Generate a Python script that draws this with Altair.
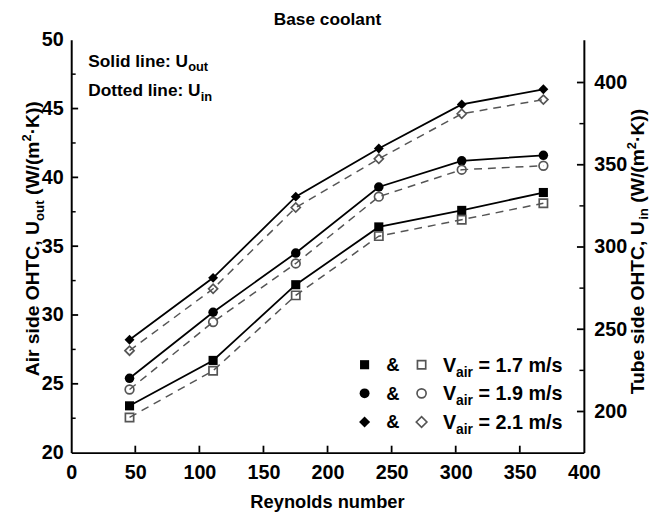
import altair as alt
import pandas as pd

# ---------------- data ----------------
reynolds = [45.5, 110.7, 175.2, 240.0, 304.7, 368.4]
vair_labels = ["1.7", "1.9", "2.1"]
u_out_17 = [23.4, 26.7, 32.2, 36.4, 37.6, 38.9]
u_out_19 = [25.4, 30.2, 34.5, 39.3, 41.2, 41.6]
u_out_21 = [28.2, 32.7, 38.6, 42.1, 45.3, 46.4]
u_in_17 = [196.4, 224.8, 270.6, 306.6, 316.6, 326.6]
u_in_19 = [213.4, 254.4, 290.0, 330.6, 347.0, 349.4]
u_in_21 = [237.0, 274.6, 324.0, 353.6, 381.0, 389.6]

x_ticks = [0, 50, 100, 150, 200, 250, 300, 350, 400]
left_ticks = [20, 25, 30, 35, 40, 45, 50]
left_minor = [22.5, 27.5, 32.5, 37.5, 42.5, 47.5]
right_ticks = [200, 250, 300, 350, 400]
right_minor = [225, 275, 325, 375]

title_text = "Base coolant"
x_title = "Reynolds number"

# ---------------- tables ----------------
def long(series):
    rows = []
    for lab, vals in zip(vair_labels, series):
        for r, v in zip(reynolds, vals):
            rows.append({"Re": r, "U": v, "Vair": lab})
    return pd.DataFrame(rows)

df_out = long([u_out_17, u_out_19, u_out_21])
df_in = long([u_in_17, u_in_19, u_in_21])

W, H = 519, 418
FONT = "Liberation Sans"
shapes = ["square", "circle", "diamond"]
sizes_filled = [85, 100, 125]
sizes_open = [70, 85, 115]

x_scale = alt.Scale(domain=[0, 400], nice=False, zero=False)
left_scale = alt.Scale(domain=[20, 50], nice=False, zero=False)
right_scale = alt.Scale(domain=[175, 426], nice=False, zero=False)

x_axis = alt.Axis(values=x_ticks, title=None, ticks=False, tickSize=0, labelPadding=10,
                  labelOverlap=False, labelFlush=False, grid=False)
left_axis = alt.Axis(values=left_ticks, title=None, ticks=False, tickSize=0, labelPadding=8,
                     orient="left", labelOverlap=False, grid=False)
right_axis = alt.Axis(values=right_ticks, title=None, ticks=False, tickSize=0, labelPadding=10,
                      orient="right", labelOverlap=False, grid=False)

X = alt.X("Re:Q", scale=x_scale, axis=x_axis)
shape_enc = alt.Shape("Vair:N", scale=alt.Scale(domain=vair_labels, range=shapes), legend=None)

# ---------------- left (U_out) group ----------------
yl = alt.Y("U:Q", scale=left_scale, axis=left_axis)
out_line = alt.Chart(df_out).mark_line(color="black", strokeWidth=1.8).encode(x=X, y=yl, detail="Vair:N")
out_pts = alt.Chart(df_out).mark_point(filled=True, color="black", opacity=1).encode(
    x=X, y=yl, shape=shape_enc,
    size=alt.Size("Vair:O", scale=alt.Scale(domain=vair_labels, range=sizes_filled), legend=None))

xt = alt.Chart(pd.DataFrame({"Re": x_ticks[1:-1]})).mark_rule(color="black", strokeWidth=1.8).encode(
    x=X, y=alt.value(H), y2=alt.value(H - 7))
lt = alt.Chart(pd.DataFrame({"U": left_ticks[1:-1]})).mark_rule(color="black", strokeWidth=1.8).encode(
    y=yl, x=alt.value(0), x2=alt.value(7))
ltm = alt.Chart(pd.DataFrame({"U": left_minor})).mark_rule(color="black", strokeWidth=1.5).encode(
    y=yl, x=alt.value(0), x2=alt.value(4.5))

left_group = alt.layer(out_line, out_pts, xt, lt, ltm)

# ---------------- right (U_in) group ----------------
yr = alt.Y("U:Q", scale=right_scale, axis=right_axis)
in_line = alt.Chart(df_in).mark_line(color="#555555", strokeWidth=1.5, strokeDash=[8, 6]).encode(
    x=X, y=yr, detail="Vair:N")
in_pts = alt.Chart(df_in).mark_point(filled=False, color="#555555", strokeWidth=1.7, opacity=1).encode(
    x=X, y=yr, shape=shape_enc,
    size=alt.Size("Vair:O", scale=alt.Scale(domain=vair_labels, range=sizes_open), legend=None))
rt = alt.Chart(pd.DataFrame({"U": right_ticks})).mark_rule(color="black", strokeWidth=1.8).encode(
    y=yr, x=alt.value(W), x2=alt.value(W - 7))
rtm = alt.Chart(pd.DataFrame({"U": right_minor})).mark_rule(color="black", strokeWidth=1.5).encode(
    y=yr, x=alt.value(W), x2=alt.value(W - 4.5))
right_group = alt.layer(in_line, in_pts, rt, rtm)

# ---------------- rich text helper (Arial/Liberation Sans Bold metrics) ----------------
CW = {' ': 278, '&': 722, '(': 333, ')': 333, ',': 278, '.': 278, '/': 278, ':': 333, '=': 584,
      '·': 278, 'A': 722, 'B': 722, 'C': 722, 'D': 722, 'H': 722, 'K': 722, 'O': 778, 'R': 722,
      'S': 667, 'T': 611, 'U': 722, 'V': 667, 'W': 944, 'a': 556, 'b': 611, 'c': 556, 'd': 611,
      'e': 556, 'i': 278, 'l': 278, 'm': 889, 'n': 611, 'o': 611, 'r': 389, 's': 556, 't': 333,
      'u': 611, 'y': 556}


def tw(s, size):
    return sum(CW.get(c, 556) for c in s) * size / 1000.0


def rich(pieces, x, y, angle=0, center=True):
    total = sum(tw(t, s) for t, s, _ in pieces)
    cum = -total / 2 if center else 0.0
    out = []
    for t, s, shift in pieces:
        lead = len(t) - len(t.lstrip(" "))
        start = cum + tw(" " * lead, s)   # SVG drops leading blanks: shift instead
        kw = dict(align="left", baseline="alphabetic", font=FONT, fontWeight="bold",
                  fontSize=s, color="black", dx=start, dy=shift)
        if angle:
            kw["angle"] = angle
        out.append(alt.Chart(pd.DataFrame({"a": [0]})).mark_text(**kw).encode(
            x=alt.value(x), y=alt.value(y), text=alt.value(t.lstrip(" "))))
        cum += tw(t, s)
    return out


texts = []
texts += rich([(title_text, 17.5, 0)], W / 2, -15)
texts += rich([("Solid line: U", 17.5, 0), ("out", 13, 4.5)], 17.3, 27.3, center=False)
texts += rich([("Dotted line: U", 17.5, 0), ("in", 13, 4.5)], 17.3, 57.3, center=False)
texts += rich([(x_title, 18.5, 0)], W / 2, 474)
texts += rich([("Air side OHTC, U", 19.5, 0), ("out", 13.5, 5), (" (W/(m", 19.5, 0), ("2", 13, -8),
               ("·K))", 19.5, 0)], -33, 202, angle=270)
texts += rich([("Tube side OHTC, U", 19.5, 0), ("in", 13.5, 4), (" (W/(m", 19.5, 0), ("2", 13, -8),
               ("·K))", 19.5, 0)], 580, 215, angle=270)

# legend rows
legend_rows = [329, 358, 387]
for ry, lab, shp, sf, so in zip(legend_rows, vair_labels, shapes, sizes_filled, sizes_open):
    texts.append(alt.Chart(pd.DataFrame({"a": [0]})).mark_point(
        filled=True, color="black", opacity=1, shape=shp, size=sf).encode(
        x=alt.value(297), y=alt.value(ry)))
    texts.append(alt.Chart(pd.DataFrame({"a": [0]})).mark_point(
        filled=False, color="#555555", opacity=1, strokeWidth=1.7, shape=shp, size=so).encode(
        x=alt.value(354.7), y=alt.value(ry)))
    texts += rich([("&", 18.5, 0)], 325.5, ry + 6.5)
    texts += rich([("V", 20, 0), ("air", 14, 5), (f" = {lab} m/s", 20, 0)], 376.3, ry + 7,
                  center=False)

chart = alt.layer(left_group, right_group, *texts).resolve_scale(
    y="independent", size="independent", shape="independent"
).properties(
    width=W, height=H,
    autosize=alt.AutoSizeParams(type="none"),
    padding={"left": 64, "top": 29, "right": 71, "bottom": 59},
).configure_view(stroke=None).configure_axis(
    labelFont=FONT, labelFontWeight="bold", labelFontSize=20, labelColor="black",
    domainColor="black", domainWidth=2, grid=False
)

chart.save("out.html", embed_options={"renderer": "svg", "actions": False})
